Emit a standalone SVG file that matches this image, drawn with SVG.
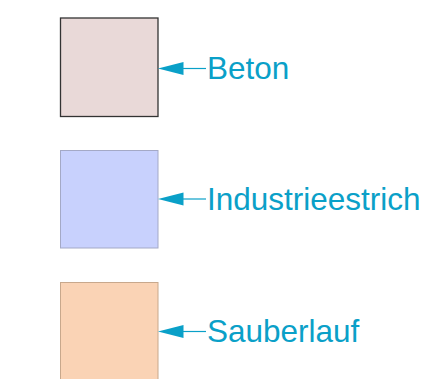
<svg xmlns="http://www.w3.org/2000/svg" width="434" height="379" viewBox="0 0 434 379">
<style>
.lbl{font-family:"Liberation Sans",Arial,sans-serif;font-size:31.5px;fill:#0aa0c8}
.conn{stroke:#0aa0c8;stroke-width:1.2;fill:none}
.head{fill:#0aa0c8}
</style>
<rect width="434" height="379" fill="#ffffff"/>
<g id="node-beton">
<rect x="60.5" y="18" width="97.5" height="98.5" fill="#e9d9d8" stroke="#333333" stroke-width="1.3"/>
<text class="lbl" x="207" y="78.5">Beton</text>
</g>
<g id="node-industrieestrich">
<rect x="60.5" y="150.5" width="97.5" height="97.5" fill="#c8d1fd" stroke="#a4a9c6" stroke-width="1"/>
<text class="lbl" x="207" y="209.5">Industrieestrich</text>
</g>
<g id="node-sauberlauf">
<rect x="60.5" y="282.5" width="97.5" height="110" fill="#fad3b5" stroke="#c8a88c" stroke-width="1"/>
<text class="lbl" x="207" y="342">Sauberlauf</text>
</g>
<g id="connectors">
<path class="conn" d="M183 68.5H206"/>
<polygon class="head" points="158,68.5 183.5,62 183.5,75"/>
<path class="conn" d="M183 199H206"/>
<polygon class="head" points="158,199 183.5,192.5 183.5,205.5"/>
<path class="conn" d="M183 331.5H206"/>
<polygon class="head" points="158,331.5 183.5,325 183.5,338"/>
</g>
</svg>
